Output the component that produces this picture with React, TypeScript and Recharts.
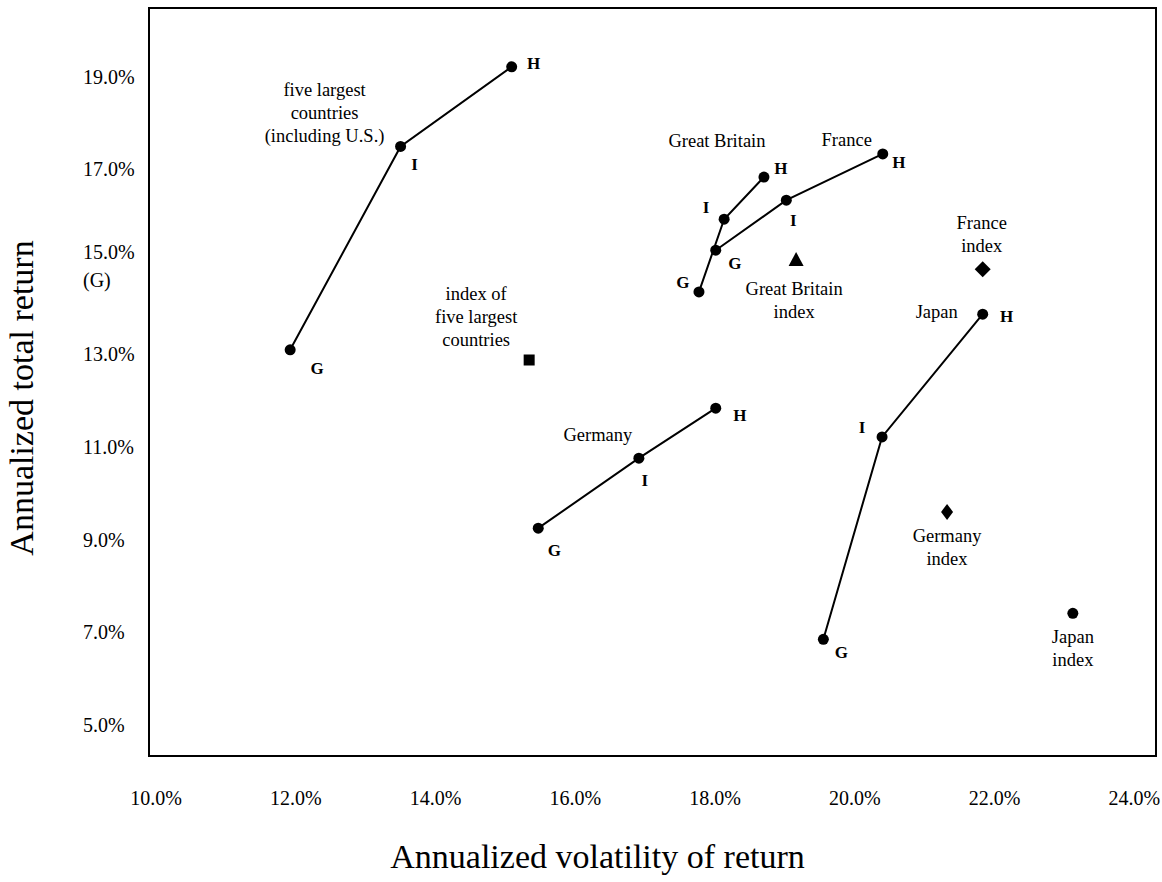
import { ScatterChart, Scatter, XAxis, YAxis, ReferenceArea, Label } from 'recharts'

const FONT = '"Liberation Serif", "Times New Roman", serif'

// G, I, H portfolios along each line
const stages = ['G', 'I', 'H']

// annualized volatility (x, %) and total return (y, %)
const fiveLargestVol = [11.92, 13.5, 15.09]
const fiveLargestRet = [13.1, 17.49, 19.21]
const britainVol = [17.77, 18.13, 18.7]
const britainRet = [14.35, 15.92, 16.83]
const franceVol = [18.01, 19.02, 20.4]
const franceRet = [15.25, 16.33, 17.33]
const japanVol = [19.55, 20.39, 21.83]
const japanRet = [6.85, 11.22, 13.87]
const germanyVol = [15.47, 16.91, 18.01]
const germanyRet = [9.25, 10.76, 11.84]

// single index points
const indexNames = ['five largest', 'Great Britain', 'France', 'Germany', 'Japan']
const indexVol = [15.34, 19.16, 21.83, 21.32, 23.12]
const indexRet = [12.88, 15.04, 14.84, 9.6, 7.41]

const xTicks = [10, 12, 14, 16, 18, 20, 22, 24]
const yTicks = [5, 7, 9, 11, 13, 15, 17, 19]

const X_DOMAIN = [9.9, 24.31]
const Y_DOMAIN = [4.33, 20.48]

const toPoints = (vol: number[], ret: number[]) =>
  vol.map((v, i) => ({ x: v, y: ret[i], stage: stages[i] }))

// label placement (pixels) around the points
const paths = [
  {
    id: 'five', vol: fiveLargestVol, ret: fiveLargestRet,
    title: ['five largest', 'countries', '(including U.S.)'], at: 1, tdx: -76, tdy: -50,
    letters: [[27, 24], [14, 24], [22, 2]],
  },
  {
    id: 'britain', vol: britainVol, ret: britainRet,
    title: ['Great Britain'], at: 2, tdx: -47, tdy: -30,
    letters: [[-16, -4], [-18, -6], [17, -3]],
  },
  {
    id: 'france', vol: franceVol, ret: franceRet,
    title: ['France'], at: 2, tdx: -36, tdy: -8,
    letters: [[19, 19], [7, 26], [16, 14]],
  },
  {
    id: 'japan', vol: japanVol, ret: japanRet,
    title: ['Japan'], at: 2, tdx: -46, tdy: 4,
    letters: [[18, 19], [-20, -4], [24, 8]],
  },
  {
    id: 'germany', vol: germanyVol, ret: germanyRet,
    title: ['Germany'], at: 1, tdx: -41, tdy: -17,
    letters: [[16, 28], [6, 28], [24, 13]],
  },
]

const indexStyle: Record<string, { marker: string; title: string[]; dx: number; dy: number }> = {
  'five largest': { marker: 'square', title: ['index of', 'five largest', 'countries'], dx: -53, dy: -60 },
  'Great Britain': { marker: 'triangle', title: ['Great Britain', 'index'], dx: -2, dy: 35 },
  France: { marker: 'diamond', title: ['France', 'index'], dx: -1, dy: -40 },
  Germany: { marker: 'slimDiamond', title: ['Germany', 'index'], dx: 0, dy: 30 },
  Japan: { marker: 'circle', title: ['Japan', 'index'], dx: 0, dy: 30 },
}

function TextLines({ x, y, lines }: { x: number; y: number; lines: string[] }) {
  return (
    <text x={x} y={y} textAnchor="middle" fontFamily={FONT} fontSize={18.5} fill="#000">
      {lines.map((l, i) => (
        <tspan key={i} x={x} dy={i === 0 ? 0 : 23}>{l}</tspan>
      ))}
    </text>
  )
}

const pathShape = (cfg: typeof paths[number]) => (props: any) => {
  const { cx, cy, payload } = props
  const i = stages.indexOf(payload.stage)
  const [ldx, ldy] = cfg.letters[i]
  return (
    <g>
      <circle cx={cx} cy={cy} r={5.5} fill="#000" />
      <text x={cx + ldx} y={cy + ldy} textAnchor="middle" fontFamily={FONT} fontSize={17} fontWeight="bold" fill="#000">
        {payload.stage}
      </text>
      {i === cfg.at && <TextLines x={cx + cfg.tdx} y={cy + cfg.tdy} lines={cfg.title} />}
    </g>
  )
}

function Marker({ kind, cx, cy }: { kind: string; cx: number; cy: number }) {
  if (kind === 'square') return <rect x={cx - 5.5} y={cy - 5.5} width={11} height={11} fill="#000" />
  if (kind === 'triangle')
    return <polygon points={`${cx},${cy - 8} ${cx + 7.5},${cy + 6} ${cx - 7.5},${cy + 6}`} fill="#000" />
  if (kind === 'diamond')
    return <polygon points={`${cx},${cy - 8} ${cx + 8},${cy} ${cx},${cy + 8} ${cx - 8},${cy}`} fill="#000" />
  if (kind === 'slimDiamond')
    return <polygon points={`${cx},${cy - 8} ${cx + 6},${cy} ${cx},${cy + 8} ${cx - 6},${cy}`} fill="#000" />
  return <circle cx={cx} cy={cy} r={5.5} fill="#000" />
}

const indexShape = (name: string) => (props: any) => {
  const { cx, cy } = props
  const s = indexStyle[name]
  return (
    <g>
      <Marker kind={s.marker} cx={cx} cy={cy} />
      <TextLines x={cx + s.dx} y={cy + s.dy} lines={s.title} />
    </g>
  )
}

function XTick({ x, y, payload }: any) {
  return (
    <text x={x} y={y + 49} textAnchor="middle" fontFamily={FONT} fontSize={20} fill="#000">
      {payload.value.toFixed(1)}%
    </text>
  )
}

function YTick({ x, y, payload }: any) {
  const v = payload.value
  const lx = x - 66
  if (v === 15) {
    return (
      <text x={lx} y={y - 3} textAnchor="start" fontFamily={FONT} fontSize={20} fill="#000">
        <tspan x={lx}>15.0%</tspan>
        <tspan x={lx} dy={28}>(G)</tspan>
      </text>
    )
  }
  return (
    <text x={lx} y={y + 7} textAnchor="start" fontFamily={FONT} fontSize={20} fill="#000">
      {v.toFixed(1)}%
    </text>
  )
}

export default function App() {
  return (
    <div style={{ position: 'absolute', left: 0, top: 0, background: '#fff' }}>
      <ScatterChart width={1162} height={882} margin={{ top: 8, right: 6, bottom: 0, left: 0 }}>
        <XAxis
          type="number"
          dataKey="x"
          domain={X_DOMAIN}
          ticks={xTicks}
          interval={0}
          allowDataOverflow
          tick={<XTick />}
          tickLine={false}
          axisLine={false}
          tickSize={0}
          tickMargin={0}
          height={126}
        >
          <Label
            content={({ viewBox }: any) => (
              <text
                x={viewBox.x + viewBox.width / 2 - 55}
                y={viewBox.y + 112}
                textAnchor="middle"
                fontFamily={FONT}
                fontSize={34}
                fill="#000"
              >
                Annualized volatility of return
              </text>
            )}
          />
        </XAxis>
        <YAxis
          type="number"
          dataKey="y"
          domain={Y_DOMAIN}
          ticks={yTicks}
          interval={0}
          allowDataOverflow
          tick={<YTick />}
          tickLine={false}
          axisLine={false}
          tickSize={0}
          tickMargin={0}
          width={149}
        >
          <Label
            content={({ viewBox }: any) => {
              const tx = viewBox.x + 33
              const ty = viewBox.y + viewBox.height / 2 + 16
              return (
                <text
                  x={tx}
                  y={ty}
                  transform={`rotate(-90, ${tx}, ${ty})`}
                  textAnchor="middle"
                  fontFamily={FONT}
                  fontSize={34}
                  fill="#000"
                >
                  Annualized total return
                </text>
              )
            }}
          />
        </YAxis>
        <ReferenceArea
          x1={X_DOMAIN[0]}
          x2={X_DOMAIN[1]}
          y1={Y_DOMAIN[0]}
          y2={Y_DOMAIN[1]}
          fill="none"
          fillOpacity={0}
          stroke="#000"
          strokeWidth={2}
          ifOverflow="visible"
        />
        {paths.map((p) => (
          <Scatter
            key={p.id}
            data={toPoints(p.vol, p.ret)}
            fill="#000"
            line={{ stroke: '#000', strokeWidth: 2 }}
            lineType="joint"
            shape={pathShape(p)}
            isAnimationActive={false}
          />
        ))}
        {indexNames.map((name, i) => (
          <Scatter
            key={name}
            data={[{ x: indexVol[i], y: indexRet[i] }]}
            fill="#000"
            shape={indexShape(name)}
            isAnimationActive={false}
          />
        ))}
      </ScatterChart>
    </div>
  )
}
